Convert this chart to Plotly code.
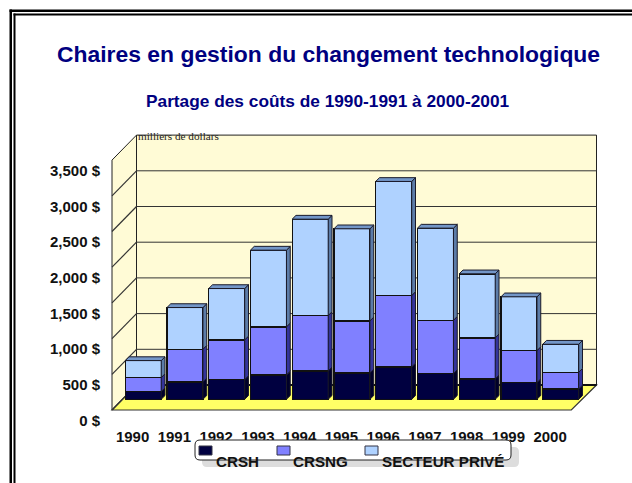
import plotly.graph_objects as go

years = [1990, 1991, 1992, 1993, 1994, 1995, 1996, 1997, 1998, 1999, 2000]
crsh = [107, 243, 276, 341, 397, 369, 453, 360, 285, 234, 145]
crsng = [197, 458, 556, 673, 776, 729, 1000, 747, 575, 448, 234]
prive = [238, 584, 719, 1075, 1350, 1290, 1598, 1290, 897, 753, 392]
y_ticks = [0, 500, 1000, 1500, 2000, 2500, 3000, 3500]
y_tick_labels = ["0 $", "500 $", "1,000 $", "1,500 $", "2,000 $", "2,500 $", "3,000 $", "3,500 $"]
series_names = ["CRSH", "CRSNG", "SECTEUR PRIVÉ"]
front_colors = ["#000040", "#8080FF", "#AFD2FF"]
side_colors = ["#00002A", "#34349A", "#5C7CA8"]
top_color = "#7396C8"

W, H = 632, 483
L, R, T, B = 101, 620, 118, 424     # plot area in page pixels
PX_YEAR = 41.75
PX_UNIT = 35.7 / 500

def xr(px_of_1990):
    return [1990 + (L - px_of_1990) / PX_YEAR, 1990 + (R - px_of_1990) / PX_YEAR]

def yr(px_of_zero):
    return [(px_of_zero - B) / PX_UNIT, (px_of_zero - T) / PX_UNIT]

BAR_X0, BAR_Y0 = 143.2, 399.3
LAB_X0, LAB_Y0 = 132.6, 420.5

def dx(px):
    return 1990 + (px - BAR_X0) / PX_YEAR

def dy(px):
    return (BAR_Y0 - px) / PX_UNIT

def pxp(px):
    return (px - L) / (R - L)

def pyp(px):
    return (B - px) / (B - T)

fig = go.Figure()

# invisible trace that activates the tick-label axes
fig.add_trace(go.Scatter(x=years, y=[None] * len(years), xaxis="x2", yaxis="y2",
                         hoverinfo="skip", showlegend=False, mode="lines"))

bases = [0] * len(years)
segments = []
for name, vals, col in zip(series_names, [crsh, crsng, prive], front_colors):
    fig.add_trace(go.Bar(x=years, y=vals, name=name, width=36 / PX_YEAR,
                         marker=dict(color=col, line=dict(color="#111111", width=1.3)),
                         showlegend=False))
    segments.append((list(bases), [b + v for b, v in zip(bases, vals)]))
    bases = segments[-1][1]

half = 18 / PX_YEAR
ddx = 3.8 / PX_YEAR
ddy = 3.8 / PX_UNIT
for (lo, hi), col in zip(segments, side_colors):
    for yr_, a, b in zip(years, lo, hi):
        xx = yr_ + half
        fig.add_trace(go.Scatter(
            x=[xx, xx + ddx, xx + ddx, xx, xx], y=[a, a + ddy, b + ddy, b, a],
            mode="lines", fill="toself", fillcolor=col, line=dict(color="#1a1a2a", width=1),
            hoverinfo="skip", showlegend=False))
for yr_, b in zip(years, segments[-1][1]):
    x0, x1 = yr_ - half, yr_ + half
    fig.add_trace(go.Scatter(
        x=[x0, x0 + ddx, x1 + ddx, x1, x0], y=[b, b + ddy, b + ddy, b, b],
        mode="lines", fill="toself", fillcolor=top_color, line=dict(color="#1a1a2a", width=1),
        hoverinfo="skip", showlegend=False))

shapes = []
def poly(pts, fill, line="#333333", w=1, ref="x", layer="below"):
    p = "M " + " L ".join(f"{a},{b}" for a, b in pts) + " Z"
    shapes.append(dict(type="path", path=p, fillcolor=fill, line=dict(color=line, width=w),
                       xref="x", yref="y", layer=layer))

bl, br, fl, fr = dx(136.5), dx(596.5), dx(112), dx(571.3)
back0, backtop = dy(385), dy(385) + 3500
front0, fronttop = dy(410), dy(410) + 3500
WALL = "#FFFBD6"
poly([(bl, back0), (br, back0), (br, backtop), (bl, backtop)], WALL, "#222222", 1)
poly([(fl, front0), (bl, back0), (bl, backtop), (fl, fronttop)], WALL, "#222222", 1)
poly([(fl, front0), (fr, front0), (br, back0), (bl, back0)], "#FFFF66", "#333333", 1.2)
for v in y_ticks[:-1]:
    shapes.append(dict(type="line", xref="x", yref="y", layer="below",
                       x0=bl, x1=br, y0=back0 + v, y1=back0 + v,
                       line=dict(color="#111111" if v == 0 else "#333333", width=2 if v == 0 else 1)))
    shapes.append(dict(type="line", xref="x", yref="y", layer="below",
                       x0=fl, x1=bl, y0=front0 + v, y1=back0 + v,
                       line=dict(color="#333333", width=1.2)))

def rect(x0, y0, x1, y1, fill, line=None, w=0):
    shapes.append(dict(type="rect", xref="paper", yref="paper", layer="above",
                       x0=pxp(x0), x1=pxp(x1), y0=pyp(y0), y1=pyp(y1), fillcolor=fill,
                       line=dict(color=line or fill, width=w)))

def rounded(x0, y0, x1, y1, r, fill, line, w):
    X0, X1, Y0, Y1 = pxp(x0), pxp(x1), pyp(y0), pyp(y1)
    rx, ry = r / (R - L), r / (B - T)
    p = (f"M {X0+rx},{Y0} L {X1-rx},{Y0} Q {X1},{Y0} {X1},{Y0-ry} L {X1},{Y1+ry} Q {X1},{Y1} {X1-rx},{Y1} "
         f"L {X0+rx},{Y1} Q {X0},{Y1} {X0},{Y1+ry} L {X0},{Y0-ry} Q {X0},{Y0} {X0+rx},{Y0} Z")
    shapes.append(dict(type="path", path=p, xref="paper", yref="paper", layer="above",
                       fillcolor=fill, line=dict(color=line, width=w)))

# page frame
rect(9.5, 9.5, 640, 12, "#000000")
rect(9.5, 9.5, 12, 490, "#000000")
rect(13.5, 13.5, 640, 15.5, "#000000")
rect(13.5, 13.5, 15.5, 490, "#000000")

# legend box with its shadow
rounded(202, 447, 519, 467, 5, "#DDDDDD", "#DDDDDD", 0)
rounded(195, 440, 511, 460, 5, "#FFFFFF", "#222222", 1)
swatch_x = [199, 277, 365]
for sx, col in zip(swatch_x, front_colors):
    rect(sx, 446, sx + 13, 455, col, "#333344", 1)

notes = []
def note(text, x, y, size, color="#000000", family="Liberation Sans", anchor="center", weight="bold"):
    notes.append(dict(text=text, x=pxp(x), y=pyp(y), xref="paper", yref="paper", showarrow=False,
                      xanchor=anchor, yanchor="middle",
                      font=dict(family=family, size=size, color=color, weight=weight)))

note("Chaires en gestion du changement technologique", 328, 54, 22.9, "#000080")
note("Partage des coûts de 1990-1991 à 2000-2001", 328, 101, 17.3, "#000080")
note("milliers de dollars", 135.5, 135.5, 11.2, "#222222", "Liberation Serif", "left", "normal")
for text, x in zip(series_names, [214, 291, 380]):
    note(text, x, 461, 15.2, color="#111111", anchor="left")

tick_font = dict(family="Liberation Sans", size=15, color="#111111", weight="bold")
fig.update_layout(
    width=W, height=H, autosize=False,
    margin=dict(l=L, r=W - R, t=T, b=H - B, pad=0),
    paper_bgcolor="#FFFFFF", plot_bgcolor="rgba(0,0,0,0)",
    barmode="stack", showlegend=False, shapes=shapes, annotations=notes,
    xaxis=dict(range=xr(BAR_X0), visible=False, fixedrange=True),
    yaxis=dict(range=yr(BAR_Y0), visible=False, fixedrange=True),
    xaxis2=dict(range=xr(LAB_X0), overlaying="x", side="bottom", anchor="y2",
                tickmode="array", tickvals=years, ticktext=[str(v) for v in years],
                showgrid=False, zeroline=False, showline=False, ticks="", tickfont=tick_font, ticklabelstandoff=2),
    yaxis2=dict(range=yr(LAB_Y0), overlaying="y", side="left", anchor="x2",
                tickmode="array", tickvals=y_ticks, ticktext=y_tick_labels,
                showgrid=False, zeroline=False, showline=False, ticks="", tickfont=tick_font),
)

fig.write_html("out.html", config=dict(displayModeBar=False),
               post_script="document.body.style.margin='0';document.body.style.overflow='hidden';")
